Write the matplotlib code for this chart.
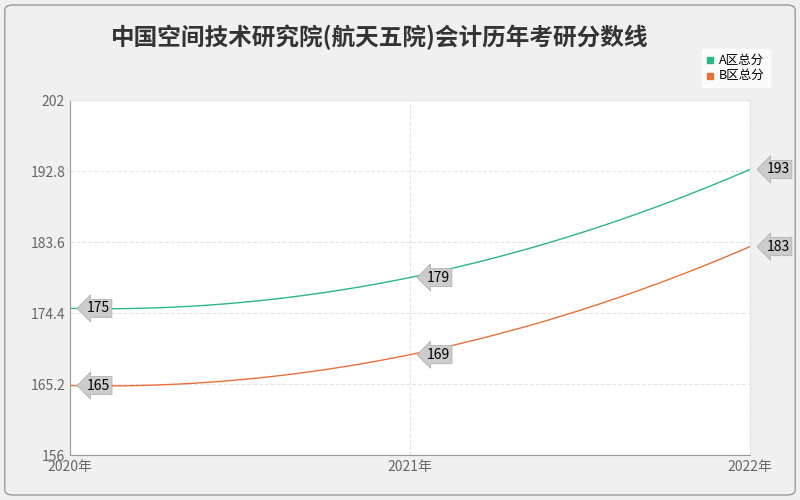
import numpy as np
import matplotlib.pyplot as plt
from matplotlib.patches import FancyBboxPatch

plt.rcParams['font.family'] = ['Noto Sans CJK SC', 'DejaVu Sans']

years = ['2020年', '2021年', '2022年']
a_scores = [175, 179, 193]
b_scores = [165, 169, 183]
y_ticks = [156, 165.2, 174.4, 183.6, 192.8, 202]

fig = plt.figure(figsize=(8, 5), dpi=100, facecolor='#f0f0f0')
fig.patches.append(FancyBboxPatch((0.006, 0.01), 0.988, 0.98, boxstyle='round,pad=0,rounding_size=0.01',
                                  transform=fig.transFigure, facecolor='#f0f0f0', edgecolor='#999999',
                                  lw=1, zorder=-10))
ax = fig.add_axes([0.0875, 0.09, 0.85, 0.71])
ax.set_facecolor('white')

x = np.arange(len(years))
xs = np.linspace(0, 2, 200)
for vals, color, name in [(a_scores, '#2bb58a', 'A区总分'), (b_scores, '#e8703a', 'B区总分')]:
    coef = np.polyfit(x, vals, 2)
    ax.plot(xs, np.polyval(coef, xs), color=color, lw=1)
    ax.scatter([], [], marker='s', s=16, color=color, label=name)
    for xi, v in zip(x, vals):
        ax.annotate(str(v), (xi, v), xytext=(12, 0), textcoords='offset points', va='center', ha='left',
                    fontsize=10, color='black', annotation_clip=False,
                    bbox=dict(boxstyle='larrow,pad=0.15', facecolor='#cccccc', edgecolor='#aaaaaa', lw=0.5))

ax.set_xlim(0, 2)
ax.set_ylim(156, 202)
ax.set_xticks(x)
ax.set_xticklabels(years, color='#666666', fontsize=10)
ax.set_yticks(y_ticks)
ax.set_yticklabels([f'{t:g}' for t in y_ticks], color='#666666', fontsize=10)
ax.grid(True, color='#e5e5e5', linestyle='--', lw=0.8)
for s in ['top', 'right']:
    ax.spines[s].set_color('#e5e5e5')
for s in ['left', 'bottom']:
    ax.spines[s].set_color('#999999')
ax.tick_params(length=0)

fig.text(0.475, 0.925, '中国空间技术研究院(航天五院)会计历年考研分数线', ha='center', va='center',
         fontsize=17, fontweight='bold', color='#333333')
fig.legend(loc='upper right', bbox_to_anchor=(0.97, 0.915), fontsize=9, handlelength=0.6,
           frameon=True, facecolor='white', edgecolor='white', borderpad=0.4,
           labelspacing=0.2, handletextpad=0.4, markerscale=1)

fig.savefig('out.png', dpi=100, facecolor=fig.get_facecolor())
